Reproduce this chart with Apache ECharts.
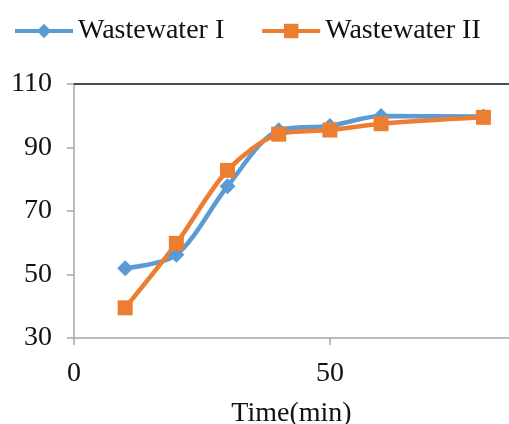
<!DOCTYPE html>
<html><head><meta charset="utf-8">
<script src="https://cdn.jsdelivr.net/npm/echarts@6/dist/echarts.min.js"></script>
<style>html,body{margin:0;padding:0;background:#fff}#c{width:509px;height:424px}</style>
</head><body><div id="c"></div>
<script>
const timeMin = [10, 20, 30, 40, 50, 60, 80];
const wastewaterI = [52, 56.2, 77.8, 95.4, 96.8, 99.9, 99.8];
const wastewaterII = [39.5, 59.8, 82.8, 94.2, 95.5, 97.5, 99.5];
const yTicks = [30, 50, 70, 90, 110];
const seriesNames = ['Wastewater I', 'Wastewater II'];

const font = 'Liberation Serif, Times New Roman, serif';
const chart = echarts.init(document.getElementById('c'));
chart.setOption({
  animation: false,
  textStyle: {fontFamily: font},
  legend: {
    top: 12, left: 8, itemWidth: 58, itemHeight: 18, itemGap: 36,
    lineStyle: {width: 4},
    textStyle: {fontFamily: font, fontSize: 28, color: '#111'},
    data: seriesNames
  },
  grid: {left: 74, right: 0, top: 84, bottom: 86, outerBoundsMode: 'none', containLabel: false},
  xAxis: [{
    type: 'value', min: 0, max: 85, interval: 50,
    name: 'Time(min)', nameLocation: 'middle', nameGap: 62,
    nameTextStyle: {fontFamily: font, fontSize: 28, color: '#111'},
    axisLine: {lineStyle: {color: '#a6a6a6', width: 1.5}},
    axisTick: {show: true, length: 7, lineStyle: {color: '#a6a6a6', width: 1.5}},
    axisLabel: {fontFamily: font, fontSize: 28, color: '#111', margin: 22, showMaxLabel: false},
    splitLine: {show: false}
  }, {
    type: 'value', position: 'top', min: 0, max: 85,
    axisLine: {show: true, lineStyle: {color: '#111', width: 1.5}},
    axisTick: {show: false}, axisLabel: {show: false}, splitLine: {show: false}
  }],
  yAxis: {
    type: 'value', min: yTicks[0], max: yTicks[yTicks.length - 1], interval: 20,
    axisLine: {show: true, lineStyle: {color: '#a6a6a6', width: 1.5}},
    axisTick: {show: true, length: 7, lineStyle: {color: '#a6a6a6', width: 1.5}},
    axisLabel: {fontFamily: font, fontSize: 28, color: '#111', margin: 22},
    splitLine: {show: false}
  },
  series: [{
    name: seriesNames[0], type: 'line', smooth: 0.3,
    data: timeMin.map((t, i) => [t, wastewaterI[i]]),
    symbol: 'diamond', symbolSize: 16,
    lineStyle: {color: '#5b9bd5', width: 4.5},
    itemStyle: {color: '#5b9bd5'}
  }, {
    name: seriesNames[1], type: 'line', smooth: 0.3,
    data: timeMin.map((t, i) => [t, wastewaterII[i]]),
    symbol: 'rect', symbolSize: 15,
    lineStyle: {color: '#ed7d31', width: 4.5},
    itemStyle: {color: '#ed7d31'}
  }]
});
</script></body></html>
